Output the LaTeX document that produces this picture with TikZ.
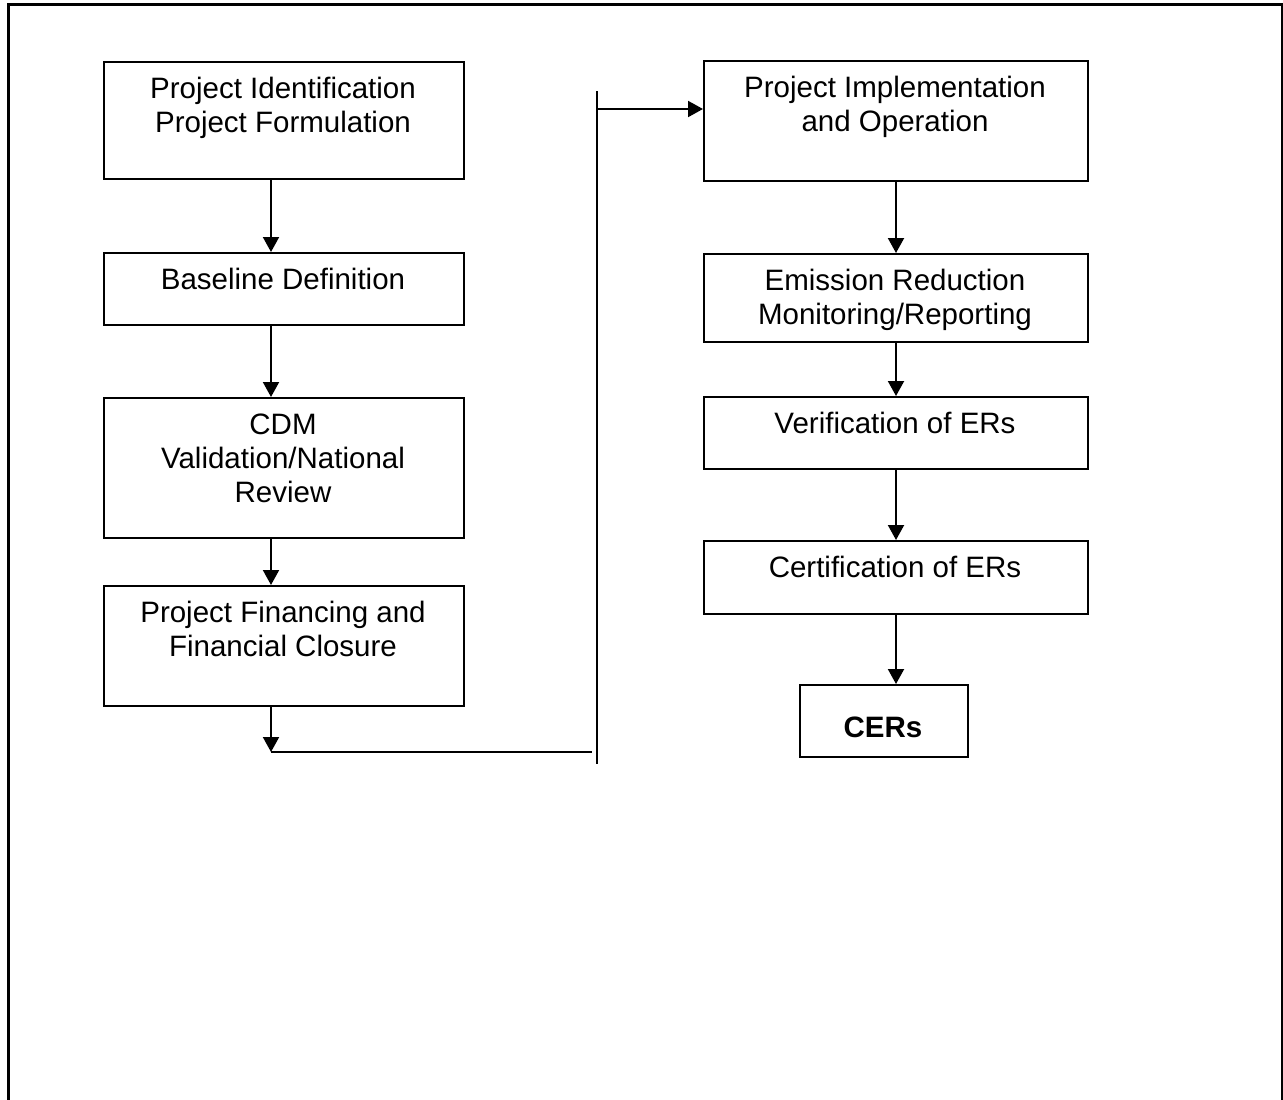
\documentclass[tikz,border=0pt]{standalone}
\usepackage{fontspec}
\setmainfont{Liberation Sans}
\usetikzlibrary{arrows.meta}
\begin{document}
\begin{tikzpicture}[x=1pt,y=-1pt,
  box/.style={draw, line width=2pt, rectangle, inner sep=0pt, anchor=north west},
  txt/.style={font=\fontsize{29.5pt}{34pt}\selectfont, align=center, inner sep=0pt, anchor=north},
  arr/.style={line width=2pt, -{Triangle[length=15pt,width=16pt]}},
  ln/.style={line width=2pt}]
\useasboundingbox (0,0) rectangle (1283,1100);
% outer frame
\draw[line width=3pt] (8,1100) -- (8,4) -- (1282,4) -- (1282,1100);

% left column
\node[box, minimum width=360pt, minimum height=117pt] (b1) at (103,61) {};
\node[txt] (t1) at (283,74.5) {\rule{0pt}{24pt}Project Identification\\Project Formulation};
\node[box, minimum width=360pt, minimum height=72pt] (b2) at (103,252) {};
\node[txt] (t2) at (283,265.5) {\rule{0pt}{24pt}Baseline Definition};
\node[box, minimum width=360pt, minimum height=140pt] (b3) at (103,397) {};
\node[txt] (t3) at (283,410.5) {\rule{0pt}{24pt}CDM\\Validation/National\\Review};
\node[box, minimum width=360pt, minimum height=120pt] (b4) at (103,585) {};
\node[txt] (t4) at (283,598.5) {\rule{0pt}{24pt}Project Financing and\\Financial Closure};

% right column
\node[box, minimum width=384pt, minimum height=120pt] (b5) at (703,60) {};
\node[txt] (t5) at (895,73.5) {\rule{0pt}{24pt}Project Implementation\\and Operation};
\node[box, minimum width=384pt, minimum height=88pt] (b6) at (703,253) {};
\node[txt] (t6) at (895,266.5) {\rule{0pt}{24pt}Emission Reduction\\Monitoring/Reporting};
\node[box, minimum width=384pt, minimum height=72pt] (b7) at (703,396) {};
\node[txt] (t7) at (895,409.5) {\rule{0pt}{24pt}Verification of ERs};
\node[box, minimum width=384pt, minimum height=73pt] (b8) at (703,540) {};
\node[txt] (t8) at (895,553.5) {\rule{0pt}{24pt}Certification of ERs};
\node[box, minimum width=168pt, minimum height=72pt] (cers) at (799,684) {};
\node[font=\fontsize{29.5pt}{34pt}\selectfont\bfseries, inner sep=0pt, anchor=base] (tc) at (883,737.5) {CERs};

% helper coordinates
\coordinate (cx) at (271,0);
\coordinate (j1) at (271,752);
\coordinate (j2) at (592,752);
\coordinate (v1) at (597,91);
\coordinate (v2) at (597,764);
\coordinate (h1) at (597,109);

% connectors, left column
\draw[arr] (b1.south -| cx) -- (b2.north -| cx);
\draw[arr] (b2.south -| cx) -- (b3.north -| cx);
\draw[arr] (b3.south -| cx) -- (b4.north -| cx);
\draw[arr] (b4.south -| cx) -- (j1);
\draw[ln] (j1) -- (j2);
\draw[ln] (v1) -- (v2);
\draw[arr] (h1) -- (h1 -| b5.west);

% connectors, right column
\draw[arr] (b5.south) -- (b6.north);
\draw[arr] (b6.south) -- (b7.north);
\draw[arr] (b7.south) -- (b8.north);
\draw[arr] (b8.south) -- (b8.south |- cers.north);
\end{tikzpicture}
\end{document}
